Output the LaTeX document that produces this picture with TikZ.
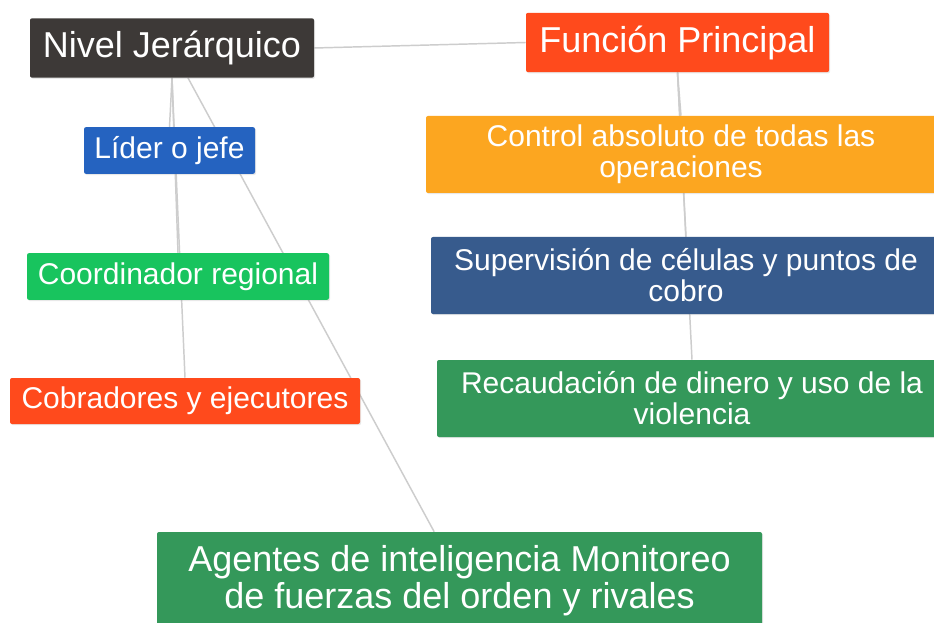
\documentclass[tikz,border=0pt]{standalone}
\usepackage{fontspec}
\setmainfont{Liberation Sans}
\usetikzlibrary{shadows,backgrounds}
\definecolor{nivelgray}{HTML}{3D3937}
\definecolor{redorange}{HTML}{FF4A1C}
\definecolor{liderblue}{HTML}{2563C0}
\definecolor{lightgreen}{HTML}{18C45E}
\definecolor{ambar}{HTML}{FCA620}
\definecolor{slateblue}{HTML}{375B8D}
\definecolor{darkgreen}{HTML}{34985A}
\definecolor{linkgray}{HTML}{CDCDCD}
\tikzset{%
  boxnode/.style  = {shape=rectangle, rounded corners=1.5pt, inner sep=0pt,%
                     align=center, text=white,%
                     drop shadow={shadow xshift=0.8pt, shadow yshift=-0.9pt,%
                                  opacity=0.18}},%
  headnode/.style = {boxnode, minimum height=44.5pt,%
                     font=\fontsize{27}{28}\selectfont},%
  leafnode/.style = {boxnode, minimum height=35pt,%
                     font=\fontsize{22.5}{23.25}\selectfont},%
  widenode/.style = {leafnode, minimum width=382.5pt, minimum height=57.75pt},%
  link/.style     = {draw=linkgray, line width=1.1pt}%
}

\begin{document}
\begin{tikzpicture}[x=0.75pt, y=-0.75pt]
	\path[use as bounding box] (0,0) rectangle (934,623);
	\clip (0,0) rectangle (934,623);
	\node[headnode, fill=nivelgray, minimum width=213pt] (nivel) at (172,48) {Nivel Jerárquico};
	\node[headnode, fill=redorange, minimum width=227.25pt] (funcion) at (677.5,42.5) {Función Principal};
	\node[leafnode, fill=liderblue, minimum width=128.25pt] (lider) at (169.5,150.5) {Líder o jefe};
	\node[leafnode, fill=lightgreen, minimum width=226.5pt] (coordinador) at (178,276.5) {Coordinador regional};
	\node[leafnode, fill=redorange, minimum width=262.5pt, minimum height=34.5pt] (cobradores) at (185,401) {Cobradores y ejecutores};
	\node[widenode, fill=ambar] (control) at (681,154.5) {Control absoluto de todas las\\operaciones};
	\node[widenode, fill=slateblue] (supervision) at (686,275.5) {Supervisión de células y puntos de\\cobro};
	\node[widenode, fill=darkgreen] (recaudacion) at (692,398.5) {Recaudación de dinero y uso de la\\violencia};
	\node[headnode, fill=darkgreen, minimum width=453.75pt, minimum height=72.75pt,%
		font=\fontsize{27}{27.75}\selectfont] (agentes) at (459.5,580.5)%
		{Agentes de inteligencia Monitoreo\\de fuerzas del orden y rivales};
	\begin{scope}[on background layer]
		\fill[white] (0,0) rectangle (934,623);
		\draw[link] (nivel.east) -- (funcion.west);
		\draw[link] (nivel.south) -- (lider.north);
		\draw[link] (nivel.south) -- (coordinador.north);
		\draw[link] (nivel.south) -- (cobradores.north);
		\draw[link] ([xshift=12pt]nivel.south) -- ([xshift=-19pt]agentes.north);
		\draw[link] (funcion.south) -- (control.north);
		\draw[link] (funcion.south) -- (supervision.north);
		\draw[link] (funcion.south) -- (recaudacion.north);
	\end{scope}
\end{tikzpicture}
\end{document}
